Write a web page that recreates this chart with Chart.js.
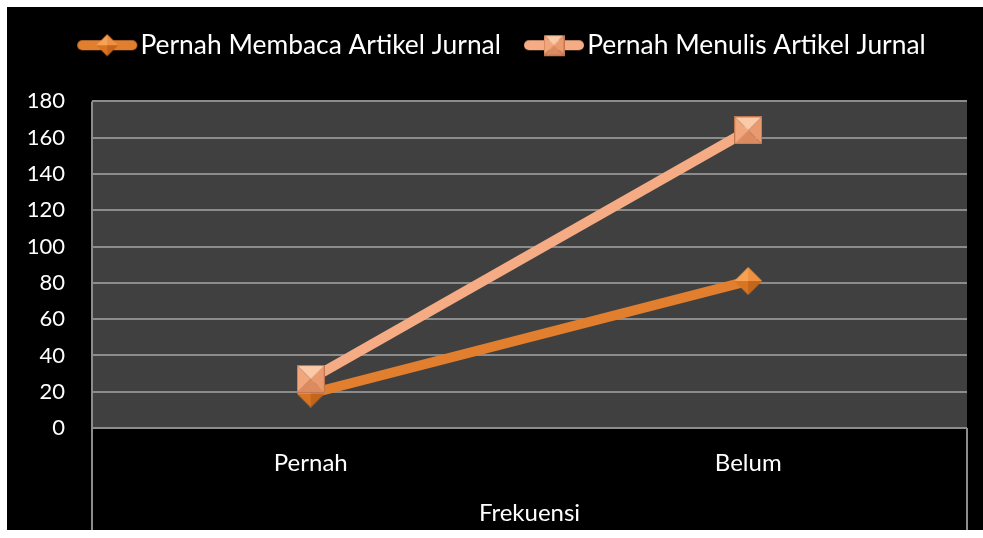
<!DOCTYPE html>
<html lang="id">
<head>
<meta charset="UTF-8">
<script src="https://cdn.jsdelivr.net/npm/chart.js@4.4.0/dist/chart.umd.min.js"></script>
<style>
  html, body { margin: 0; padding: 0; background: #fff; }
  #wrap { position: absolute; left: 7px; top: 7px; width: 976px; height: 523px; background: #000; }
</style>
</head>
<body>
<div id="wrap"><canvas id="chart" width="976" height="523"></canvas></div>
<script>
// ── data ──────────────────────────────────────────────
const categories  = ['Pernah', 'Belum']
const membaca     = [19, 81]
const menulis     = [27, 164]
const seriesNames = ['Pernah Membaca Artikel Jurnal', 'Pernah Menulis Artikel Jurnal']
const axisTitle   = 'Frekuensi'
const yMin = 0, yMax = 180, yStep = 20

// ── styles ────────────────────────────────────────────
const FONT    = 'Lato'
const GRID    = '#8c8c8c'
const C_READ  = '#e17f2e'
const C_WRITE = '#f5ab84'

// bevelled marker images
function tri(g, pts, col) {
  g.beginPath(); g.moveTo(...pts[0]); pts.slice(1).forEach(p => g.lineTo(...p)); g.closePath()
  g.fillStyle = col; g.fill()
}
function squareMarker(s) {
  const c = document.createElement('canvas')
  c.width = c.height = s
  const g = c.getContext('2d'), m = s / 2
  tri(g, [[0, 0], [s, 0], [m, m]], '#fbcaa8')
  tri(g, [[0, 0], [0, s], [m, m]], '#f2a67c')
  tri(g, [[s, 0], [s, s], [m, m]], '#eb9a6f')
  tri(g, [[0, s], [s, s], [m, m]], '#dc8a5f')
  g.strokeStyle = '#c27650'; g.lineWidth = 1
  g.strokeRect(0.5, 0.5, s - 1, s - 1)
  return c
}
function diamondMarker(s) {
  const c = document.createElement('canvas')
  c.width = c.height = s
  const g = c.getContext('2d'), m = s / 2
  tri(g, [[m, 0], [0, m], [m, m]], '#f6a153')
  tri(g, [[m, 0], [s, m], [m, m]], '#ee9040')
  tri(g, [[0, m], [m, s], [m, m]], '#d97422')
  tri(g, [[s, m], [m, s], [m, m]], '#c4651b')
  return c
}
// legend icon: wide transparent canvas, line sits toward the right so it hugs the text
function legendIcon(color, marker) {
  const c = document.createElement('canvas')
  c.width = 120; c.height = 26
  const g = c.getContext('2d')
  g.strokeStyle = color; g.lineWidth = 10; g.lineCap = 'round'
  g.beginPath(); g.moveTo(39, 13); g.lineTo(89, 13); g.stroke()
  g.drawImage(marker, 64 - marker.width / 2, 13 - marker.height / 2)
  return c
}

const readPt  = diamondMarker(28)
const writePt = squareMarker(28)
const icons = [legendIcon(C_READ, diamondMarker(22)), legendIcon(C_WRITE, squareMarker(21))]

const plotBg = {
  id: 'plotBg',
  beforeDraw(chart) {
    const { ctx, chartArea: a } = chart
    ctx.save(); ctx.fillStyle = '#404040'
    ctx.fillRect(a.left, a.top, a.right - a.left, a.bottom - a.top)
    ctx.restore()
  }
}

new Chart(document.getElementById('chart'), {
  type: 'line',
  data: {
    labels: categories,
    datasets: [
      { label: seriesNames[0], data: membaca, borderColor: C_READ, borderWidth: 10,
        pointStyle: readPt, order: 2 },
      { label: seriesNames[1], data: menulis, borderColor: C_WRITE, borderWidth: 10,
        pointStyle: writePt, order: 1 },
    ]
  },
  options: {
    responsive: false, animation: false,
    layout: { padding: { left: 15, right: 0, top: 0, bottom: 0 } },
    plugins: {
      tooltip: { enabled: false },
      legend: {
        position: 'top',
        labels: {
          color: '#fff', font: { family: FONT, size: 26.4 },
          usePointStyle: true, pointStyleWidth: 48, boxHeight: 26, padding: 25,
          generateLabels: () => seriesNames.map((n, i) => ({
            text: n, pointStyle: icons[i], fontColor: '#fff', datasetIndex: i, lineWidth: 0,
            strokeStyle: 'transparent', fillStyle: 'transparent'
          }))
        }
      },
      // empty spacer between legend and plot
      subtitle: { display: true, text: '', position: 'top', weight: 500,
                  font: { size: 10, lineHeight: 1 }, padding: { top: 0, bottom: 23 } }
    },
    scales: {
      x: {
        offset: true,
        grid: {
          offset: true, lineWidth: 2, tickLength: 102,
          color: c => c.index === 0 ? GRID : 'transparent',
          tickColor: c => c.index === 1 ? 'transparent' : GRID,
        },
        border: { display: false },
        ticks: { color: '#fff', font: { family: FONT, size: 24 }, padding: -81 },
        title: { display: true, text: axisTitle, color: '#fff', font: { family: FONT, size: 24 },
                 padding: { top: 0, bottom: 2 } },
        afterFit: s => { s.height = 102 }
      },
      y: {
        min: yMin, max: yMax,
        grid: { color: GRID, lineWidth: 2, drawTicks: false },
        border: { display: false },
        ticks: { stepSize: yStep, color: '#fff', font: { family: FONT, size: 22 }, padding: 27 },
        afterFit: s => { s.width = 70 }
      },
      // empty right-hand margin so the legend centres like the original
      yPad: {
        type: 'linear', position: 'right', min: yMin, max: yMax,
        grid: { display: false }, border: { display: false }, ticks: { display: false },
        afterFit: s => { s.width = 16 }
      }
    }
  },
  plugins: [plotBg]
})
</script>
</body>
</html>
